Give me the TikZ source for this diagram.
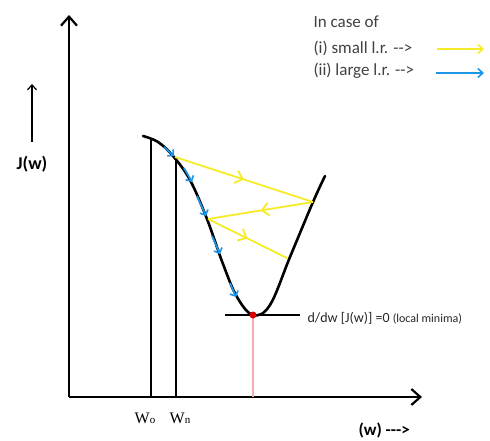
\documentclass[tikz,border=0pt]{standalone}
\usepackage{fontspec}
\setmainfont{Liberation Serif}
\newfontfamily\carlitofont{Carlito}
\usetikzlibrary{arrows.meta,decorations.markings}
\definecolor{yel}{RGB}{245,235,40}
\definecolor{blu}{RGB}{30,150,230}
\definecolor{pinkl}{RGB}{245,170,175}
\tikzset{
  axis/.style={line width=2.6pt,-{Straight Barb[length=9pt,width=16pt,line width=2.2pt]}},
  curve/.style={line width=2.6pt, line cap=round},
  vline/.style={line width=2pt},
  yarrow/.style={yel, line width=1.8pt, decoration={markings, mark=at position 0.5 with {\arrow{Straight Barb[length=7pt,width=13pt,line width=1.8pt]}}}, postaction={decorate}},
  barrow/.style={blu, line width=1.8pt, -{Straight Barb[length=4pt,width=9pt,line width=1.6pt]}},
  lbl/.style={font=\carlitofont\fontsize{17}{20}\selectfont, anchor=west, text=black!75},
}
\begin{document}
\begin{tikzpicture}[x=1pt,y=-1pt]
\useasboundingbox (0,0) rectangle (490,441);
% axes
\coordinate (O) at (69,397);
\coordinate (ytip) at (69,15);
\coordinate (xtip) at (422,397);
\draw[axis] (O) -- (ytip);
\draw[axis] (O) -- (xtip);
% J(w) arrow
\coordinate (ja) at (32,142);
\coordinate (jb) at (32,84);
\draw[line width=1.4pt,-{Straight Barb[length=5pt,width=9pt,line width=1.2pt]}] (ja) -- (jb);
\node[font=\carlitofont\bfseries\fontsize{18}{20}\selectfont] (J) at (32,164) {J(w)};
% vertical lines
\coordinate (w0t) at (151,139);
\coordinate (w0b) at (151,397);
\coordinate (wnt) at (176,158);
\coordinate (wnb) at (176,397);
\draw[vline] (w0t) -- (w0b);
\draw[vline] (wnt) -- (wnb);
% minimum
\coordinate (min) at (253,315);
\coordinate (hl) at (225,315);
\coordinate (hr) at (300,315);
\coordinate (minb) at (253,397);
\draw[pinkl, line width=1.2pt] (min) -- (minb);
\draw[line width=1.8pt] (hl) -- (hr);
% curve
\draw[curve] plot[smooth, tension=0.6] coordinates {(143,136) (158,142) (173,156) (190,180) (207,219) (223,264) (237,297) (253,315) (270,305) (290,257) (313,202) (325,176)};
\fill[red!85!black] (min) circle (3.5pt);
% yellow arrows
\coordinate (y1) at (175,157);
\coordinate (y2) at (313,202);
\coordinate (y3) at (208,219);
\coordinate (y4) at (287,258);
\draw[yarrow] (y1) -- (y2);
\draw[yarrow] (y2) -- (y3);
\draw[yarrow] (y3) -- (y4);
% blue arrows
\coordinate (b1a) at (164,147); \coordinate (b1b) at (174,156);
\coordinate (b2a) at (184,168); \coordinate (b2b) at (192,182);
\coordinate (b3a) at (197,196); \coordinate (b3b) at (206,216);
\coordinate (b4a) at (212,236); \coordinate (b4b) at (220,254);
\coordinate (b6a) at (230,283); \coordinate (b6b) at (236,297);
\draw[barrow] (b1a) -- (b1b);
\draw[barrow] (b2a) -- (b2b);
\draw[barrow] (b3a) -- (b3b);
\draw[barrow] (b4a) -- (b4b);
\draw[barrow] (b6a) -- (b6b);
% labels
\node[lbl, text=black!85, font=\carlitofont\fontsize{14}{16}\selectfont] (dd) at (304,318) {d/dw [J(w)] =0 {\fontsize{12}{14}\selectfont (local minima)}};
\node[font=\fontsize{16}{18}\selectfont] (W0) at (145,418) {W{\fontsize{11}{12}\selectfont o}};
\node[font=\fontsize{16}{18}\selectfont] (Wn) at (180,418) {W{\fontsize{11}{12}\selectfont n}};
\node[font=\carlitofont\bfseries\fontsize{17}{19}\selectfont, anchor=west] (wl) at (355,430) {(w) ---{\textgreater}};
% legend
\node[lbl] (l0) at (310,22) {In case of};
\node[lbl] (l1) at (310,48) {(i) small l.r. --{\textgreater}};
\node[lbl] (l2) at (310,71) {(ii) large l.r. --{\textgreater}};
\coordinate (la1) at (437,49); \coordinate (lb1) at (484,49);
\coordinate (la2) at (436,73); \coordinate (lb2) at (484,73);
\draw[yel, line width=1.8pt, -{Straight Barb[length=5pt,width=9pt,line width=1.6pt]}] (la1) -- (lb1);
\draw[blu, line width=1.8pt, -{Straight Barb[length=5pt,width=9pt,line width=1.6pt]}] (la2) -- (lb2);
\end{tikzpicture}
\end{document}
